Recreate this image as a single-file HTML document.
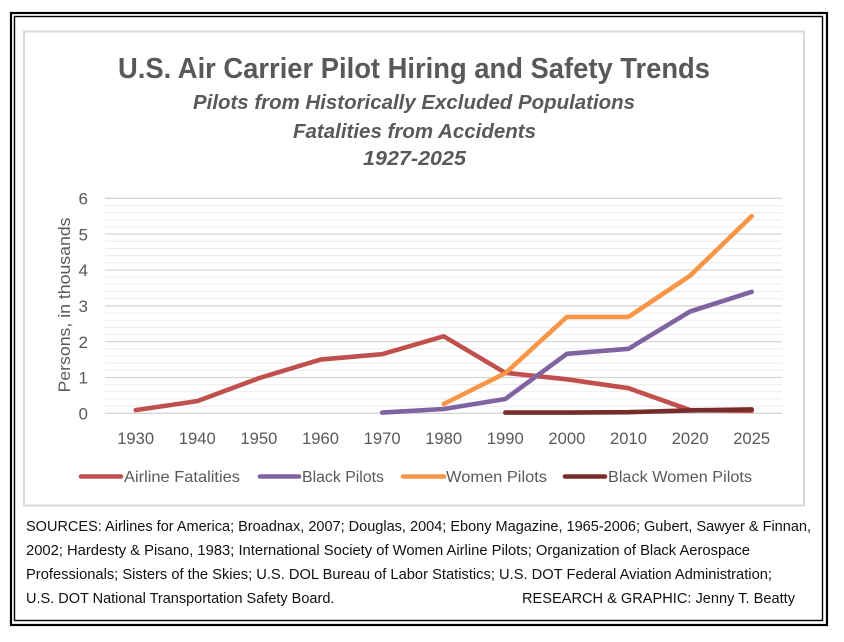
<!DOCTYPE html>
<html>
<head>
<meta charset="utf-8">
<style>
  html, body { margin:0; padding:0; background:#fff; }
  svg { display:block; }
  text { font-family: "Liberation Sans", "DejaVu Sans", sans-serif; }
</style>
</head>
<body>
<svg width="844" height="642" viewBox="0 0 844 642" xmlns="http://www.w3.org/2000/svg">
  <rect x="0" y="0" width="844" height="642" fill="#fff"/>
  <!-- outer double frame -->
  <rect x="11" y="13" width="816" height="612" fill="none" stroke="#000" stroke-width="2.2"/>
  <rect x="14.5" y="16.5" width="808" height="604" fill="none" stroke="#000" stroke-width="1.4"/>
  <!-- chart box -->
  <rect x="24" y="31.5" width="780" height="474" fill="#fff" stroke="#d9d9d9" stroke-width="2"/>

  <!-- titles -->
  <text x="118" y="78" font-size="29" font-weight="bold" fill="#595959" textLength="592" lengthAdjust="spacingAndGlyphs">U.S. Air Carrier Pilot Hiring and Safety Trends</text>
  <text x="193" y="109" font-size="20" font-weight="bold" font-style="italic" fill="#595959" textLength="442" lengthAdjust="spacingAndGlyphs">Pilots from Historically Excluded Populations</text>
  <text x="293" y="138" font-size="20" font-weight="bold" font-style="italic" fill="#595959" textLength="243" lengthAdjust="spacingAndGlyphs">Fatalities from Accidents</text>
  <text x="363" y="165" font-size="20" font-weight="bold" font-style="italic" fill="#595959" textLength="103" lengthAdjust="spacingAndGlyphs">1927-2025</text>

  <!-- minor gridlines -->
  <g stroke="#ececec" stroke-width="1">
    <line x1="105" x2="782" y1="406.1" y2="406.1"/>
    <line x1="105" x2="782" y1="399.0" y2="399.0"/>
    <line x1="105" x2="782" y1="391.8" y2="391.8"/>
    <line x1="105" x2="782" y1="384.6" y2="384.6"/>
    <line x1="105" x2="782" y1="370.3" y2="370.3"/>
    <line x1="105" x2="782" y1="363.1" y2="363.1"/>
    <line x1="105" x2="782" y1="356.0" y2="356.0"/>
    <line x1="105" x2="782" y1="348.8" y2="348.8"/>
    <line x1="105" x2="782" y1="334.5" y2="334.5"/>
    <line x1="105" x2="782" y1="327.3" y2="327.3"/>
    <line x1="105" x2="782" y1="320.1" y2="320.1"/>
    <line x1="105" x2="782" y1="313.0" y2="313.0"/>
    <line x1="105" x2="782" y1="298.6" y2="298.6"/>
    <line x1="105" x2="782" y1="291.5" y2="291.5"/>
    <line x1="105" x2="782" y1="284.3" y2="284.3"/>
    <line x1="105" x2="782" y1="277.1" y2="277.1"/>
    <line x1="105" x2="782" y1="262.8" y2="262.8"/>
    <line x1="105" x2="782" y1="255.6" y2="255.6"/>
    <line x1="105" x2="782" y1="248.5" y2="248.5"/>
    <line x1="105" x2="782" y1="241.3" y2="241.3"/>
    <line x1="105" x2="782" y1="227.0" y2="227.0"/>
    <line x1="105" x2="782" y1="219.8" y2="219.8"/>
    <line x1="105" x2="782" y1="212.6" y2="212.6"/>
    <line x1="105" x2="782" y1="205.5" y2="205.5"/>
  </g>
  <!-- major gridlines -->
  <g stroke="#d6d6d6" stroke-width="1.3">
    <line x1="105" x2="782" y1="413.3" y2="413.3"/>
    <line x1="105" x2="782" y1="377.5" y2="377.5"/>
    <line x1="105" x2="782" y1="341.6" y2="341.6"/>
    <line x1="105" x2="782" y1="305.8" y2="305.8"/>
    <line x1="105" x2="782" y1="270.0" y2="270.0"/>
    <line x1="105" x2="782" y1="234.1" y2="234.1"/>
    <line x1="105" x2="782" y1="198.3" y2="198.3"/>
  </g>

  <!-- y tick labels -->
  <g font-size="17" fill="#595959" text-anchor="end">
    <text x="88" y="419.5">0</text>
    <text x="88" y="383.7">1</text>
    <text x="88" y="347.8">2</text>
    <text x="88" y="312.0">3</text>
    <text x="88" y="276.2">4</text>
    <text x="88" y="240.3">5</text>
    <text x="88" y="204.5">6</text>
  </g>
  <!-- y axis title -->
  <text transform="translate(70,305) rotate(-90)" font-size="17" fill="#595959" text-anchor="middle" textLength="175" lengthAdjust="spacingAndGlyphs">Persons, in thousands</text>

  <!-- x tick labels -->
  <g font-size="17" fill="#595959" text-anchor="middle">
    <text x="135.7" y="444" textLength="37" lengthAdjust="spacingAndGlyphs">1930</text>
    <text x="197.3" y="444" textLength="37" lengthAdjust="spacingAndGlyphs">1940</text>
    <text x="258.9" y="444" textLength="37" lengthAdjust="spacingAndGlyphs">1950</text>
    <text x="320.5" y="444" textLength="37" lengthAdjust="spacingAndGlyphs">1960</text>
    <text x="382.1" y="444" textLength="37" lengthAdjust="spacingAndGlyphs">1970</text>
    <text x="443.7" y="444" textLength="37" lengthAdjust="spacingAndGlyphs">1980</text>
    <text x="505.3" y="444" textLength="37" lengthAdjust="spacingAndGlyphs">1990</text>
    <text x="566.9" y="444" textLength="37" lengthAdjust="spacingAndGlyphs">2000</text>
    <text x="628.5" y="444" textLength="37" lengthAdjust="spacingAndGlyphs">2010</text>
    <text x="690.1" y="444" textLength="37" lengthAdjust="spacingAndGlyphs">2020</text>
    <text x="751.7" y="444" textLength="37" lengthAdjust="spacingAndGlyphs">2025</text>
  </g>

  <!-- series -->
  <g fill="none" stroke-width="4.6" stroke-linejoin="round" stroke-linecap="round">
    <polyline stroke="#c0504d" points="135.7,410.1 197.3,401.1 258.9,378.2 320.5,359.6 382.1,354.2 443.7,336.3 505.3,372.8 566.9,379.3 628.5,388.2 690.1,410.1 751.7,410.8"/>
    <polyline stroke="#8064a2" points="382.1,412.6 443.7,409.0 505.3,399.0 566.9,353.8 628.5,348.8 690.1,311.5 751.7,291.8"/>
    <polyline stroke="#f79646" points="443.7,404.0 505.3,373.2 566.9,316.9 628.5,316.9 690.1,275.7 751.7,216.2"/>
    <polyline stroke="#772c2a" points="505.3,412.6 566.9,412.6 628.5,412.2 690.1,410.4 751.7,409.4"/>
  </g>

  <!-- legend -->
  <g stroke-width="4.6" stroke-linecap="round">
    <line x1="81" x2="121" y1="476.5" y2="476.5" stroke="#c0504d"/>
    <line x1="260" x2="299" y1="476.5" y2="476.5" stroke="#8064a2"/>
    <line x1="403" x2="444" y1="476.5" y2="476.5" stroke="#f79646"/>
    <line x1="565" x2="605" y1="476.5" y2="476.5" stroke="#772c2a"/>
  </g>
  <g font-size="16" fill="#595959">
    <text x="124" y="482" textLength="116" lengthAdjust="spacingAndGlyphs">Airline Fatalities</text>
    <text x="302" y="482" textLength="82" lengthAdjust="spacingAndGlyphs">Black Pilots</text>
    <text x="446" y="482" textLength="101" lengthAdjust="spacingAndGlyphs">Women Pilots</text>
    <text x="608" y="482" textLength="144" lengthAdjust="spacingAndGlyphs">Black Women Pilots</text>
  </g>

  <!-- sources -->
  <g font-size="14.5" fill="#111">
    <text x="26" y="531" textLength="785" lengthAdjust="spacingAndGlyphs">SOURCES: Airlines for America; Broadnax, 2007; Douglas, 2004; Ebony Magazine, 1965-2006; Gubert, Sawyer &amp; Finnan,</text>
    <text x="26" y="555" textLength="724" lengthAdjust="spacingAndGlyphs">2002; Hardesty &amp; Pisano, 1983; International Society of Women Airline Pilots; Organization of Black Aerospace</text>
    <text x="26" y="579" textLength="746" lengthAdjust="spacingAndGlyphs">Professionals; Sisters of the Skies; U.S. DOL Bureau of Labor Statistics; U.S. DOT Federal Aviation Administration;</text>
    <text x="26" y="603">U.S. DOT National Transportation Safety Board.</text>
    <text x="522" y="603" textLength="273" lengthAdjust="spacingAndGlyphs">RESEARCH &amp; GRAPHIC: Jenny T. Beatty</text>
  </g>
</svg>
</body>
</html>
